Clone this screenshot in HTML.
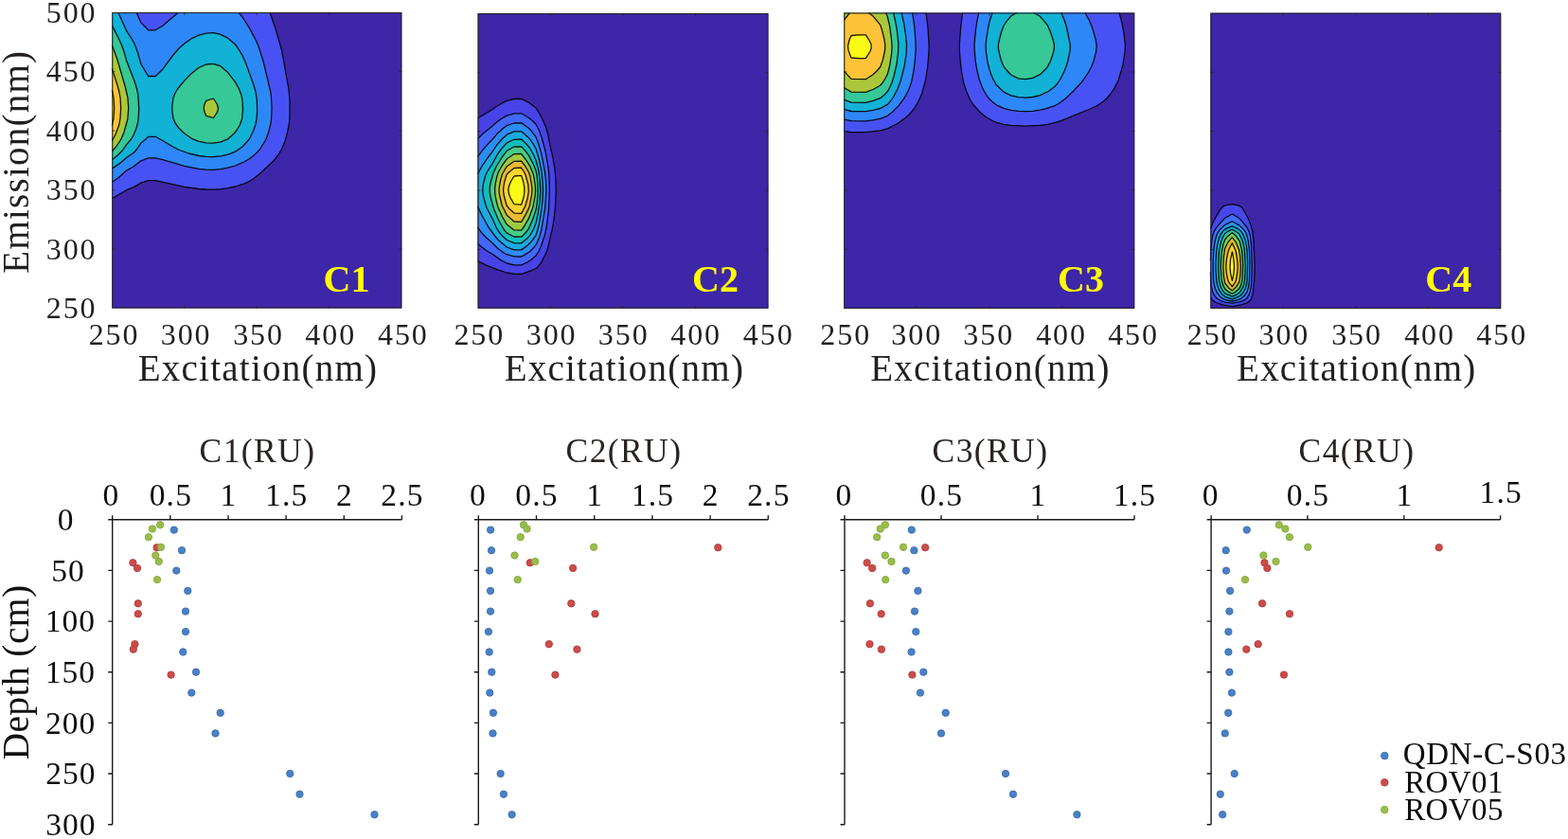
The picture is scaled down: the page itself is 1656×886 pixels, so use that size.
<!DOCTYPE html>
<html><head><meta charset="utf-8"><title>EEM components and depth profiles</title>
<style>
html,body{margin:0;padding:0;background:#fff;}
svg{display:block;}
text{font-family:"Liberation Serif","Times New Roman",serif;}
.tk{font-size:32px;fill:#231f20;letter-spacing:1.9px;}
.al{font-size:39px;fill:#231f20;letter-spacing:1.24px;}
.cl{font-size:40px;font-weight:bold;fill:#ffff00;}
.tk2{font-size:33.5px;fill:#0d0d0d;letter-spacing:1.2px;}
.tk3{font-size:33.5px;fill:#0d0d0d;letter-spacing:1px;}
.tt{font-size:35.5px;fill:#2a2422;letter-spacing:1.4px;}
.dl{font-size:39.5px;fill:#111;letter-spacing:0.4px;}
.lg{font-size:33px;fill:#0d0d0d;letter-spacing:0.4px;}
</style></head>
<body>
<svg width="1656" height="886" viewBox="0 0 1656 886">
<rect width="1656" height="886" fill="#fff"/>
<g><rect x="118.3" y="13" width="306" height="312.5" fill="#3e26a8"/>
<path fill="#4852f4" fill-rule="evenodd" d="M118.3 13L285 13 292.3 34.6 297.7 54 305 95 305.8 102 306.1 110 306.1 120 305.6 129 304.2 137 301.6 147 299.1 154 296.7 159 292.7 165 289.3 169.3 274.3 183.4 267.3 189 263.6 191.3 258.3 193.8 248.4 197 240.7 198.7 233.1 199.7 225.4 200.1 217.8 200 210.1 199.5 194.8 197.3 164.2 190.7 156.6 190.7 148.9 193.1 141.2 197.6 133.6 200.7 118.3 209.6 118.3 13Z"/>
<path fill="#2e87f7" fill-rule="evenodd" d="M118.3 13L144.1 13 148.9 23.9 156.6 31.8 164.2 31.8 171.8 27.3 188.5 13 251.8 13 256 18 263.3 29.4 269.3 40.6 273.1 49 275.6 56 278.4 66 284.4 90 286.1 99 286.8 107 287 116 286.5 126 285.4 133 283.3 140.5 280.5 148 276.3 155 272.3 160.1 268.3 163.9 263.6 167.5 254.3 172.6 248.4 175 240.7 177.2 233 178.6 225.4 179.3 217.8 179.1 210.1 178.3 202.4 177 191.3 174.4 171.8 168.6 164.2 166.8 156.6 166.8 148.9 169.8 141.2 175.7 133.6 180.1 124.7 188 118.3 192.3 118.3 13Z"/>
<path fill="#12b1d6" fill-rule="evenodd" d="M118.3 13L124.8 13 133.6 32.6 139.1 41 141.9 46 145.3 55 148.9 67.7 156.6 80.5 164.2 80.5 171.8 73.2 183 58 190.1 50 194.8 45.9 201.3 41.5 210.1 37.1 217.8 35.1 225.4 34.7 233.1 36.3 240.7 40.3 248.4 47 252 52 255.7 58 260 68 268.7 92 270.3 98 271.2 104 271.7 112 271.6 119 271 126 269.8 132 267.2 139 263.6 146.2 261.6 149 257 154 253.3 157 248.6 160 240.7 163.1 233.1 164.9 225.4 165.6 217.8 165.4 206.3 163.8 194.8 160.6 184.4 156 164.2 144.3 156.6 144.3 153.3 147.6 148.9 150.9 145 157 141.2 161.2 133.6 166.5 127.3 171.9 118.3 178.1 118.3 13Z"/>
<path fill="#37c897" fill-rule="evenodd" d="M118.3 27L124 38 128.6 48 131.1 55 133.6 63.9 142.1 86 144.5 94 145.8 100 146.7 114 146.3 124 145.6 129 144.1 135 141.2 142.3 138.5 147 133.6 152.6 129.2 159 124.2 164 118.3 168.8 118.3 27ZM217.5 68L225.4 67.3 233.1 69.9 240.7 76.6 248.4 86.6 252 93 254.8 100 256.1 107 256.5 116 255.5 126 253.3 132 249.7 138 247.2 141 240.7 146.8 233.1 149.9 225.4 151.1 217.8 150.8 210.1 149.3 202.4 146.3 194.9 141 188.7 135 185.1 130 183 125 181.9 118 181.8 112 182.9 104 184.6 99 187.5 94 194.8 85.1 202.4 77.5 210.1 71.3 217.5 68Z"/>
<path fill="#abc739" fill-rule="evenodd" d="M118.3 48L120.5 53 123.3 60.9 132.1 91 134.9 103 135.7 114 134.8 126 130.8 140 128.3 146 126.6 149 122.5 155 118.3 159.7 118.3 48ZM225.4 104L229.3 110 230.4 114 230.2 116 229.1 119 225.4 124.5 217.8 122.3 215.9 118 215.2 114 215.7 111 217.8 106.3 225.4 104Z"/>
<path fill="#fec338" fill-rule="evenodd" d="M118.3 73L123.4 88 125.7 96 127 103 127.6 114 127 125 125.7 132 122.4 141 118.3 148.9 118.3 73Z"/>
<path fill="#f9fb15" fill-rule="evenodd" d="M118.3 96L118.3 95.1 119.1 98 120 103 120.6 114 120 125 118.3 132.7 118.3 96Z"/>
<path fill="none" stroke="#000" stroke-width="1.3" stroke-opacity="0.9" stroke-linejoin="round" d="M285 13L291.3 31.5 297.5 53 304.9 94 306.1 108 305.8 127 304.8 134 303.2 141 301 149 297.7 157 295.3 161.3 290.3 168.2 285.3 173.3 274.3 183.4 267.3 189 263.6 191.3 258.3 193.8 248.4 197 240.7 198.7 233.1 199.7 225.4 200.1 217.8 200 210.1 199.5 194.8 197.3 164.2 190.7 156.6 190.7 148.9 193.1 141.2 197.6 133.6 200.7 118.3 209.6M144.1 13L148.9 23.9 156.6 31.8 164.2 31.8 171.8 27.3 188.5 13M251.8 13L256 18 263.3 29.4 269.3 40.6 273.1 49 278.1 65 285.8 97 286.6 104 287 114 286.6 125 285.8 131 283.8 139 281 147 274.9 157 271.4 161 267 165 262.9 168 257.3 171.2 248.4 175 240.7 177.2 233 178.6 225.4 179.3 217.8 179.1 210.1 178.3 194.8 175.3 171.8 168.6 164.2 166.8 156.6 166.8 148.9 169.8 141.2 175.7 133.6 180.1 124.7 188 118.3 192.3M124.8 13L133.6 32.6 139.1 41 141.9 46 145.3 55 148.9 67.7 156.6 80.5 164.2 80.5 171.8 73.2 183 58 189.1 51 194.8 45.9 202.4 40.7 205.3 39.4 210.1 37.1 217.8 35.1 225.4 34.7 233.1 36.3 240.7 40.3 248.4 47 251.4 51 256 58.6 260.3 68.6 267.7 89 270 97 271.3 105 271.6 118 271 126 269.8 132 267.2 139 263.2 147 256 155 249.3 159.6 244.3 161.8 240.7 163.1 233.1 164.9 225.4 165.6 217.8 165.4 210.1 164.5 199.3 162 188.4 158 182.6 155 171.8 148.5 164.2 144.3 156.6 144.3 153.3 147.6 148.9 150.9 145 157 141.2 161.2 133.6 166.5 127.3 171.9 118.3 178.1M118.3 26.7L124.3 38.6 128.6 48 131.1 55 133.6 63.9 142.3 86.6 144.5 94 145.8 100 146.7 114 146.3 124 145.6 129 144.1 135 141.2 142.3 138.5 147 133.6 152.6 129.2 159 124.2 164 118.3 168.8M217.5 68L225.4 67.3 233.1 69.9 240.7 76.6 248.4 86.6 252 93 254.8 100 256.1 107 256.5 116 255.5 126 253.3 132 249.7 138 247.2 141 240.7 146.8 233.1 149.9 225.4 151.1 217.8 150.8 210.1 149.3 202.4 146.3 194.9 141 188.7 135 185.1 130 183 125 181.9 118 181.8 112 182.9 104 184.6 99 187.5 94 194.8 85.1 202.4 77.5 210.1 71.3 217.5 68M118.3 47.8L123.3 61 132.1 91 134.9 103 135.7 114 134.8 126 130.8 140 128.3 146 126.6 149 122.5 155 118.3 159.7M225.4 104L229.3 110 230.4 114 230.2 116 229.1 119 225.4 124.5 217.8 122.3 215.9 118 215.2 114 215.7 111 217.8 106.3 225.4 104M118.3 72.3L124 90 126.1 98 127.1 104 127.6 114 127 125 125.7 132 122.4 141 118.3 148.9M118.3 95.1L120 103 120.6 114 120 125 118.3 132.7"/></g>
<path fill="none" stroke="#262626" stroke-width="0.8" d="M194.8 325.5v-3M194.8 13v3M271.3 325.5v-3M271.3 13v3M347.8 325.5v-3M347.8 13v3M118.3 75.5h3M424.3 75.5h-3M118.3 138h3M424.3 138h-3M118.3 200.5h3M424.3 200.5h-3M118.3 263h3M424.3 263h-3"/>
<rect x="118.8" y="13.5" width="305" height="311.5" fill="none" stroke="#262626" stroke-width="1.1"/>
<text x="120.5" y="364.3" class="tk" text-anchor="middle">250</text>
<text x="196.6" y="364.3" class="tk" text-anchor="middle">300</text>
<text x="273" y="364.3" class="tk" text-anchor="middle">350</text>
<text x="349.2" y="364.3" class="tk" text-anchor="middle">400</text>
<text x="425.9" y="364.3" class="tk" text-anchor="middle">450</text>
<text x="272.5" y="402.4" class="al" text-anchor="middle">Excitation(nm)</text>
<text x="341.6" y="308.4" class="cl">C1</text>
<g><rect x="504.6" y="14" width="306.8" height="311.7" fill="#3e26a8"/>
<path fill="#4743e7" fill-rule="evenodd" d="M541 105L543 104.5 550.6 104.4 558.3 108.2 566 114.1 570.6 121.3 576 133 578.8 142 585.2 174 586.5 183 587 191 587.1 208 586.5 218 585.4 228 583.1 243 581.3 249.4 579.4 259 577.6 264.9 571.6 277.1 569.7 280 567.8 282 566 283.5 561.6 285.6 550.6 289.4 543 289.3 533.6 287.5 525.6 284.9 515.5 281 504.6 275.6 504.6 124.8 519.9 115.7 524.6 112.3 529.6 109.3 535.3 106.4 541 105Z"/>
<path fill="#4367fd" fill-rule="evenodd" d="M542.7 120L550.6 119.8 555.6 122.6 558.6 124.4 562.9 128 566 131.2 567.5 134 571.3 143 576.1 160 578.9 176 580.1 190 580.4 204 579.6 220 577 241 574.5 251 570.2 263 566 269.9 558.3 276.2 550.6 279.8 543 279.8 535.3 278 533.6 277.2 527.6 273.8 519.9 268.3 514.4 265 508.9 261 504.6 257.3 504.6 146.5 510.2 141 527.6 126.7 535.3 122.1 542.7 120Z"/>
<path fill="#2d8cf3" fill-rule="evenodd" d="M545.5 130L550.6 129.9 555.6 133.2 560.6 137.7 566 144.7 569.5 154 572.1 164 575.7 183 576.8 197 576.7 207 575.7 219 572 242 569.6 250.7 566 258.8 562.6 262.8 558.3 266.7 550.6 271 542.6 270.8 535.3 268.7 529.6 265.4 525.3 262 519.9 256.5 513.6 251 508 245 504.6 239.9 504.6 165.5 508.4 160 513.6 153.9 519.9 147.5 525.3 141 529.5 137 535.3 132.7 543 130 545.5 130Z"/>
<path fill="#1caadf" fill-rule="evenodd" d="M542.8 139L550.6 138.8 558.3 145.4 564.6 154.4 566 156.9 567.4 161 570.6 173.6 572.3 183 573.1 192 573.3 204 572.4 218 570.2 232 567.5 244 566 248.3 561.2 255 557.6 258.8 550.6 263.9 543 263.8 535.3 261 526.6 253.7 523.3 250 516 240 508.8 227 504.6 217.9 504.6 183.8 505.4 182 509.6 174.7 516.3 165 519.9 160.4 523.6 154.6 527.2 150 535.3 142.2 542.8 139Z"/>
<path fill="#12beb9" fill-rule="evenodd" d="M541.3 148L543 147.3 550.6 147.1 555.9 152 559.2 156 562.7 162 566 169 569.1 181 570.3 191 570.8 203 569.8 216 568.1 226 566 235.7 563 243 559.6 248.6 556.5 252 550.6 256.8 543 256.7 535.3 253.5 531.4 250 527.6 245.8 524 240 519.9 230.6 513.8 219 510.9 209 509.8 203 509.9 198 510.7 193 512.9 185 514.8 181 519.9 173.1 525.4 163 529.7 157 535.3 150.9 541.3 148Z"/>
<path fill="#48cb86" fill-rule="evenodd" d="M542.9 155L550.6 154.8 554.6 159.1 558.3 163.9 563.5 174 566 180.3 567 185 567.9 194 568 206 567 216 566 221.8 562.5 232 558.3 241.6 554.9 246 550.6 250.2 543 250 535.3 246.1 531.9 242 526.4 232 521.7 221 518.3 209 517.2 203 517.2 198 518.4 192 520.9 183 524.1 176 530.2 166 535.3 159.3 542.9 155Z"/>
<path fill="#9fc942" fill-rule="evenodd" d="M542.4 163L543 162.7 550.6 162.5 556.6 170.4 559.9 176 562.9 183 564.2 189 565.3 196 565.5 201 565.2 206 562.8 219 558.3 230.9 553.6 239 550.6 243.1 543 242.9 535.3 237.1 530.6 229 526 219 524.1 212 522.9 205 522.6 200 523.2 194 524.9 186 526.3 182 530.2 175 535.3 167.8 542.4 163Z"/>
<path fill="#eaba31" fill-rule="evenodd" d="M542 171L543 170.4 550.6 170.1 555 176 558.5 182 559.8 186 561.5 195 561.9 200 561.7 205 559.4 217 558.3 220.4 555.6 225.8 550.6 234.3 543 234 535.3 227.3 530.2 217 527.4 205 527.1 201 527.5 196 528.7 190 530.4 184 535.3 175.7 542 171Z"/>
<path fill="#fad42e" fill-rule="evenodd" d="M542.3 178L543 177.5 550.6 177.2 553.7 182 555.1 185 557.8 195 558.3 202 557.2 209 554.6 218 550.6 225.4 543 225.1 537.5 220 535.1 217 532.1 206 531.6 201 531.9 197 532.8 192 534.9 185 535.4 184 537.4 182 542.3 178Z"/>
<path fill="#f9fb15" fill-rule="evenodd" d="M542.9 186L550.6 185.4 552.7 192 553.8 198 553.9 203 552.8 209 550.6 216.2 543 215.6 539.1 209 537.3 204 536.9 200 537.7 196 539.6 191.5 542.9 186Z"/>
<path fill="none" stroke="#000" stroke-width="1.3" stroke-opacity="0.9" stroke-linejoin="round" d="M504.6 124.8L519.9 115.7 524.6 112.3 530.6 108.8 535.3 106.4 543 104.5 550.6 104.4 558.3 108.2 566 114.1 569.3 119 572.6 125.3 576.4 134 578.6 141.2 581.3 155.7 583.8 166 585.7 177 586.7 186 587.3 201 586.6 217 585.2 230 583.3 242 581.3 249.4 579.6 258 577.9 264 575.8 269 571.1 278 567.6 282.2 566 283.5 561.6 285.6 550.6 289.4 543 289.3 535.3 288 525.6 284.9 513.6 280.2 504.6 275.6M504.6 146.5L509.6 141.6 519.9 133.3 524.6 129 529.6 125.4 535.3 122.1 543 119.9 550.6 119.8 558.3 124.2 562.6 127.7 566 131.2 569.5 138 572.3 146 576.1 160 578.7 175 579.9 185 580.4 201 579.4 222 577.3 239 575.6 247.3 571.8 259 569.2 265 566 269.9 560 275 556.6 277.1 550.6 279.8 543 279.8 535.3 278 528.6 274.4 519.9 268.3 514.4 265 508.9 261 504.6 257.3M504.6 165.5L508.6 159.8 514.4 153 519.9 147.5 525.6 140.7 531.6 135.3 535.3 132.7 543 130 550.6 129.9 558.3 135.3 561.6 138.8 566 144.7 568.5 151 571.6 161.7 575.4 181 576.5 191 576.9 201 575.6 220 572 242 569.9 250 566.6 257.6 564.2 261 559.2 266 553.6 269.4 550.6 271 543 270.9 535.3 268.7 531.6 266.7 525.6 262.3 519.9 256.5 513.6 251 508 245 504.6 239.9M504.6 183.8L508.6 176.2 515.6 166 519.9 160.4 524.8 153 531 146 535.3 142.2 543 138.9 550.6 138.8 558.3 145.4 562.6 151.2 566 157 569 167 572 181 573 191 573.4 201 573 211 572 221 569.3 237 566.9 246 566 248.3 564.3 251 559.6 256.8 555.6 260.4 550.6 263.9 543 263.8 535.3 261 526.6 253.7 523.3 250 516 240 508.8 227 504.6 217.9M541.3 148L543 147.3 550.6 147.1 555.9 152 559.2 156 562.7 162 566 169 569.1 181 570.3 191 570.8 203 569.8 216 568.1 226 566 235.7 563 243 559.6 248.6 556.5 252 550.6 256.8 543 256.7 535.3 253.5 531.4 250 527.6 245.8 524 240 519.9 230.6 513.8 219 510.9 209 509.8 203 509.9 198 510.7 193 512.9 185 514.8 181 519.9 173.1 525.4 163 529.7 157 535.3 150.9 541.3 148M542.9 155L550.6 154.8 554.6 159.1 558.3 163.9 563.5 174 566 180.3 567 185 567.9 194 568 206 567 216 566 221.8 562.5 232 558.3 241.6 554.9 246 550.6 250.2 543 250 535.3 246.1 531.9 242 526.4 232 521.7 221 518.3 209 517.2 203 517.2 198 518.4 192 520.9 183 524.1 176 530.2 166 535.3 159.3 542.9 155M542.4 163L543 162.7 550.6 162.5 556.6 170.4 559.9 176 562.9 183 564.2 189 565.3 196 565.5 201 565.2 206 562.8 219 558.3 230.9 553.6 239 550.6 243.1 543 242.9 535.3 237.1 530.6 229 526 219 524.1 212 522.9 205 522.6 200 523.2 194 524.9 186 526.3 182 530.2 175 535.3 167.8 542.4 163M542 171L543 170.4 550.6 170.1 555 176 558.5 182 559.8 186 561.5 195 561.9 200 561.7 205 559.4 217 558.3 220.4 555.6 225.8 550.6 234.3 543 234 535.3 227.3 530.2 217 527.4 205 527.1 201 527.5 196 528.7 190 530.4 184 535.3 175.7 542 171M542.3 178L543 177.5 550.6 177.2 553.7 182 555.1 185 557.8 195 558.3 202 557.2 209 554.6 218 550.6 225.4 543 225.1 537.5 220 535.1 217 532.1 206 531.6 201 531.9 197 532.8 192 534.9 185 535.4 184 537.4 182 542.3 178M542.9 186L550.6 185.4 552.7 192 553.8 198 553.9 203 552.8 209 550.6 216.2 543 215.6 539.1 209 537.3 204 536.9 200 537.7 196 539.6 191.5 542.9 186"/></g>
<path fill="none" stroke="#262626" stroke-width="0.8" d="M581.3 325.7v-3M581.3 14v3M658 325.7v-3M658 14v3M734.7 325.7v-3M734.7 14v3M504.6 76.3h3M811.4 76.3h-3M504.6 138.7h3M811.4 138.7h-3M504.6 201h3M811.4 201h-3M504.6 263.4h3M811.4 263.4h-3"/>
<rect x="505.1" y="14.5" width="305.8" height="310.7" fill="none" stroke="#262626" stroke-width="1.1"/>
<text x="506.3" y="364.3" class="tk" text-anchor="middle">250</text>
<text x="582.6" y="364.3" class="tk" text-anchor="middle">300</text>
<text x="658.7" y="364.3" class="tk" text-anchor="middle">350</text>
<text x="735.1" y="364.3" class="tk" text-anchor="middle">400</text>
<text x="811.7" y="364.3" class="tk" text-anchor="middle">450</text>
<text x="659.4" y="402.4" class="al" text-anchor="middle">Excitation(nm)</text>
<text x="731" y="308.3" class="cl">C2</text>
<g><rect x="891.3" y="13.5" width="306.9" height="312.4" fill="#3e26a8"/>
<path fill="#4852f4" fill-rule="evenodd" d="M891.3 13.5L978 13.5 980.4 33.5 981.1 46.5 981 54.5 980.1 67.5 978.6 78.5 977 86.5 973.7 98.5 971.8 103.5 969.2 108.5 964.9 115.5 960.4 121 948.3 130.2 937.3 135.9 929.7 137.9 914.3 139.7 899 139.7 891.3 138.4 891.3 13.5ZM1016.6 13.5L1182.1 13.5 1184.5 22.5 1186.4 31.5 1188 43.5 1188.4 50.5 1187.2 61.5 1185.7 69.5 1183.5 77.5 1180 87.5 1176.8 93.5 1171.9 100.5 1167.2 105.5 1161.3 110.1 1151.3 115 1122.3 126.8 1115.3 129.3 1106.1 131.4 1098.5 132.4 1090.8 133 1075.4 133 1067.8 132.4 1060.1 131.3 1052.4 129.3 1049.3 128 1044.3 125.5 1038.3 121.3 1033.3 116.8 1028.3 111 1025.8 107.5 1023.3 102.8 1018.3 89.5 1016.7 82.5 1015 71.5 1013.3 50.5 1014.5 30.5 1016.6 13.5Z"/>
<path fill="#2e87f7" fill-rule="evenodd" d="M891.3 13.5L963.7 13.5 966 30.5 967.2 50.5 965.6 70.5 963.9 80.5 962 88.5 960.3 93.5 957.3 99.8 949.2 111.5 942.3 118.4 937.3 122.3 929.7 125.4 914.3 127.8 899 127.7 891.3 126.1 891.3 13.5ZM1033.6 13.5L1145.9 13.5 1149.9 20.5 1153.3 28.5 1155.5 35.5 1158 46.5 1158.1 51.5 1157.2 56.5 1155 64.5 1152.2 71.5 1147.3 79.9 1140 89.5 1132.3 97.5 1124.8 104.5 1119.5 108.5 1113.8 111.7 1106.1 114.5 1098.5 116.2 1090.8 117.3 1083.1 117.6 1075.4 117.3 1067.8 116.3 1060.1 114.4 1053.6 111.5 1050.3 109.4 1045.9 105.5 1043.3 102.5 1040.3 98 1035.4 87.5 1031.9 74.5 1030 62.5 1029.1 52.5 1029 47.5 1030.9 28.5 1033.6 13.5Z"/>
<path fill="#12b1d6" fill-rule="evenodd" d="M891.3 13.5L952.1 13.5 955.5 29.5 957.5 46.5 957.2 55.5 955 70.5 950.2 88.5 947.7 94.5 944.1 101.5 940.8 106.5 937.3 110.4 929.7 114.5 922 116.3 914.3 117.6 899 117.5 891.3 115.4 891.3 13.5ZM1048.1 13.5L1120.7 13.5 1124.2 21.5 1126.9 30.5 1130.1 45.5 1130.3 51.5 1127.7 64.5 1124.8 73.5 1119.3 84.5 1113.8 91.6 1106.1 97.3 1098.5 100.7 1090.8 102.5 1083.1 103.1 1075.4 102.6 1067.8 100.8 1060.1 97.1 1052.4 89.8 1048.8 83.5 1044.8 72.9 1042.7 63.5 1041.2 51.5 1041.4 44.5 1043.4 30.5 1045.1 22.5 1048.1 13.5Z"/>
<path fill="#37c897" fill-rule="evenodd" d="M891.3 13.5L943.6 13.5 946.7 28.5 948.8 45.5 948.7 53.5 947.4 65.5 943.8 81.5 940.3 91.2 937.3 96.8 929.7 103.7 922 106.4 914.3 108.3 899 108.2 891.3 105.1 891.3 13.5ZM1071.8 14.5L1073.7 13.5 1091.8 13.5 1098.5 17.3 1106.1 26.3 1109.3 33.5 1112.6 43.5 1113.5 48.5 1113 53.5 1109.8 63.5 1107 69.5 1103.8 73.5 1098.5 78.6 1090.8 82.4 1083.1 83.7 1075.4 82.8 1067.8 79 1060.1 70.3 1058 65.5 1056.2 59.5 1054.6 52.5 1054.4 47.5 1055.3 42.5 1058.4 31.5 1060.1 27 1064.7 20.5 1067.8 16.9 1071.8 14.5Z"/>
<path fill="#abc739" fill-rule="evenodd" d="M891.3 13.5L935.5 13.5 937.3 17.6 940.2 31.5 942.1 48.5 941.8 54.5 940.7 63.5 937.9 76.5 937.3 78.4 934 84.5 929.7 90.3 922 94.5 914.3 97.3 899 97.1 891.3 92.5 891.3 13.5Z"/>
<path fill="#fec338" fill-rule="evenodd" d="M896.6 14.5L897.5 13.5 917.2 13.5 922 17 929.1 25.5 930.1 27.5 932.2 34.5 934.4 44.5 934.9 50.5 933.8 57.5 931 67.5 929.7 70.9 924.5 76.5 922 78.8 914.3 83.7 899 83.4 891.3 75.1 891.3 21.4 896.6 14.5Z"/>
<path fill="#f9fb15" fill-rule="evenodd" d="M899.7 37.5L906.6 36.8 914.3 36.9 918 42.5 919.9 46.5 920.3 50.5 918.9 54.5 914.3 61.6 906.6 61.7 899 61 896.1 53.5 895.5 48.5 896.9 42.5 899 37.6 899.7 37.5Z"/>
<path fill="none" stroke="#000" stroke-width="1.3" stroke-opacity="0.9" stroke-linejoin="round" d="M978 13.5L979.9 28.5 981.1 46.5 980.9 56.5 979.6 71.5 977.3 85.5 973.7 98.5 970.3 106.5 965.3 114.9 960.8 120.5 956.3 124.4 947.8 130.5 937.3 135.9 929.7 137.9 914.3 139.7 899 139.7 891.3 138.4M1182.1 13.5L1185 24.5 1187 35.5 1188.4 47.5 1188 55.5 1185.7 69.5 1181.2 84.5 1177.4 92.5 1171.9 100.5 1166.1 106.5 1158.9 111.5 1151.3 115 1120.3 127.6 1113.8 129.7 1106.1 131.4 1098.5 132.4 1083.1 133.2 1067.8 132.4 1060.1 131.3 1052.4 129.3 1048.3 127.5 1041.3 123.5 1035.3 118.7 1028.3 111 1024.7 105.5 1020.3 95.5 1017.8 87.5 1015.7 76.5 1014.3 65.4 1013.4 53.5 1013.4 45.5 1014.8 27.5 1016.6 13.5M963.7 13.5L965.7 27.5 967.1 44.5 967.1 52.5 966.4 63.5 964.9 75.5 962.6 86.5 959.9 94.5 955.7 102.5 949.3 111.4 942.2 118.5 937.3 122.3 930.3 125.2 922 126.8 914.3 127.8 899 127.7 891.3 126.1M1145.9 13.5L1150.4 21.5 1153.7 29.5 1157.3 42.5 1158.2 48.5 1157.6 54.5 1155.3 63.5 1153.1 69.5 1149.5 76.5 1142.6 86.5 1134.3 95.5 1124.8 104.5 1117.9 109.5 1113.8 111.7 1104.3 114.9 1098.5 116.2 1090.8 117.3 1083.1 117.6 1075.4 117.3 1067.8 116.3 1060.1 114.4 1052.4 110.9 1048 107.5 1044.3 103.8 1040.6 98.5 1037.5 92.5 1034.4 84.5 1031.9 74.5 1030.2 64.5 1029.1 51.5 1029.1 45.5 1030.5 31.5 1031.8 22.5 1033.6 13.5M952.1 13.5L954.8 25.5 956.3 35.5 957.5 47.5 957.2 55.5 955.3 69 951.1 85.5 948.2 93.5 943.5 102.5 940.8 106.5 937.3 110.4 929.7 114.5 922 116.3 914.3 117.6 899 117.5 891.3 115.4M1120.7 13.5L1123.8 20.5 1126.4 28.5 1130.3 47.5 1130.2 52.5 1128.2 62.5 1126.6 68.5 1124.3 74.5 1119.9 83.5 1116.5 88.5 1113.8 91.6 1107.3 96.5 1098.5 100.7 1090.8 102.5 1083.1 103.1 1075.4 102.6 1067.8 100.8 1060.1 97.1 1052.4 89.8 1049.3 84.5 1046.7 78.5 1044.8 72.9 1043 65.5 1041.4 54.5 1041.1 48.5 1041.7 41.5 1043.8 28.5 1045.4 21.5 1048.1 13.5M943.6 13.5L946 24.5 947.5 33.5 948.8 45.5 948.7 53.5 947.2 66.5 944.3 79.5 941.9 87.5 938.1 95.5 935.3 98.9 929.7 103.7 922 106.4 914.3 108.3 899 108.2 891.3 105.1M1091.8 13.5L1098.5 17.3 1106.1 26.3 1109.3 33.5 1112.3 42.5 1113.4 47.5 1113.3 51.5 1112.2 56.5 1109.3 64.8 1106.1 70.9 1103.8 73.5 1098.5 78.6 1094.3 80.7 1090.8 82.4 1083.1 83.7 1075.4 82.8 1067.8 79 1064.4 75.5 1060.1 70.3 1058.8 67.5 1056.7 61.5 1054.6 52.5 1054.3 48.5 1055 43.5 1057.7 33.5 1060.1 27 1063.9 21.5 1067.8 16.9 1073.7 13.5M935.5 13.5L937.3 17.6 939.6 27.5 941.5 41.5 942.1 49.5 941.5 57.5 939.6 69.5 937.3 78.3 935.1 82.5 932.7 86.5 929.7 90.3 922 94.5 914.3 97.3 899 97.1 891.3 92.5M917.2 13.5L922.3 17.3 929.7 26.3 931.7 32.5 933.9 41.5 934.8 47.5 934.5 53.5 932.3 63.5 929.8 70.5 926.5 74.5 922 78.8 914.3 83.7 899 83.4 891.3 75.1M891.3 21.4L897.5 13.5M899.7 37.5L906.6 36.8 914.3 36.9 918 42.5 919.9 46.5 920.3 50.5 918.9 54.5 914.3 61.6 906.6 61.7 899 61 896.1 53.5 895.5 48.5 896.9 42.5 899 37.6 899.7 37.5"/></g>
<path fill="none" stroke="#262626" stroke-width="0.8" d="M968 325.9v-3M968 13.5v3M1044.8 325.9v-3M1044.8 13.5v3M1121.5 325.9v-3M1121.5 13.5v3M891.3 76h3M1198.2 76h-3M891.3 138.5h3M1198.2 138.5h-3M891.3 200.9h3M1198.2 200.9h-3M891.3 263.4h3M1198.2 263.4h-3"/>
<rect x="891.8" y="14" width="305.9" height="311.4" fill="none" stroke="#262626" stroke-width="1.1"/>
<text x="893.2" y="364.3" class="tk" text-anchor="middle">250</text>
<text x="968.2" y="364.3" class="tk" text-anchor="middle">300</text>
<text x="1044.2" y="364.3" class="tk" text-anchor="middle">350</text>
<text x="1121" y="364.3" class="tk" text-anchor="middle">400</text>
<text x="1197" y="364.3" class="tk" text-anchor="middle">450</text>
<text x="1045.9" y="402.4" class="al" text-anchor="middle">Excitation(nm)</text>
<text x="1117.1" y="307.9" class="cl">C3</text>
<g><rect x="1278.4" y="13.7" width="306.8" height="312.3" fill="#3e26a8"/>
<path fill="#4747eb" fill-rule="evenodd" d="M1300.5 215.7L1301.4 215.6 1307.1 216.7 1309.1 217.3 1311.1 218.7 1312.8 220.7 1316.8 227.6 1319.9 234.7 1322.3 241.7 1323.4 246.9 1325.2 279.7 1325 290.7 1323.9 305.7 1323.2 310.7 1321.5 315.7 1319.4 318.2 1315.4 320.3 1309.1 322.4 1301.4 323.7 1292.4 322.2 1284.4 319.5 1280.4 317 1278.4 313.9 1278.4 241.4 1282.7 231.7 1290 219.7 1292.3 217.7 1293.7 217 1300.5 215.7Z"/>
<path fill="#3e6fff" fill-rule="evenodd" d="M1300.1 226.7L1301.4 226 1309.1 230.8 1315.4 238.2 1318.8 243.7 1320.1 247.7 1321.3 255.7 1322.3 276.7 1321.8 298.7 1320.9 305.7 1319.4 310.7 1316.8 315 1313.4 317.4 1309.1 318.9 1301.4 320.2 1293.7 319.1 1289.4 317.7 1285.4 315.3 1282.5 311.7 1280.6 307.7 1279.4 302.7 1278.7 296.7 1278.4 287.3 1278.4 274.7 1279 261.7 1280 252.7 1281.7 245.7 1284.4 240.9 1292.4 231.4 1293.7 230.1 1300.1 226.7Z"/>
<path fill="#2797eb" fill-rule="evenodd" d="M1299.4 234.7L1301.4 233.8 1309.1 238.1 1312.9 241.7 1315.8 245.7 1317.2 249.7 1318.6 256.7 1319.5 264.7 1319.9 275.7 1319.5 296.7 1318.4 303.7 1316.8 308.7 1314.4 312.1 1310.1 315.7 1307.6 316.7 1301.4 318 1294.4 316.7 1292 315.7 1288.4 312.9 1285.7 309.7 1283.4 304.8 1282.2 299.7 1281.6 295.7 1281.2 285.7 1281.2 275.7 1281.9 263.7 1283 255.7 1284.8 248.7 1286.7 244.7 1289.4 241.4 1293.7 237.5 1299.4 234.7Z"/>
<path fill="#08b5d0" fill-rule="evenodd" d="M1299.2 239.7L1301.4 238.8 1307.4 241.7 1310.4 244 1312.9 247.7 1315.1 253.7 1316.4 259.7 1317.1 265.7 1317.6 276.7 1317.2 295.7 1316.6 299.7 1315.1 304.7 1313.1 308.7 1310.4 311.7 1307.2 313.7 1301.4 315.9 1293.7 313.3 1290.6 310.7 1288.3 307.7 1286.5 303.7 1284.9 297.7 1284 285.7 1284 276.7 1284.7 265.7 1285.7 258.7 1287.4 252.1 1289.1 247.7 1291.4 244.3 1293.7 242.1 1299.2 239.7Z"/>
<path fill="#31c69f" fill-rule="evenodd" d="M1300.4 242.7L1301.4 242.3 1307.2 245.7 1309.1 247.5 1311.1 251.7 1312.8 256.7 1314.2 263.7 1315.3 279.7 1314.6 295.7 1313.8 299.7 1312.4 303.7 1309.1 309 1306.4 310.8 1301.4 313.1 1293.7 309.8 1291.4 306.9 1289.6 303.7 1287.6 296.7 1286.7 282.7 1287.5 265.7 1289.8 254.7 1291.8 249.7 1293.7 246.5 1296.3 244.7 1300.4 242.7Z"/>
<path fill="#81cc59" fill-rule="evenodd" d="M1299.9 246.7L1301.4 245.7 1302.7 246.7 1305.7 249.7 1309.1 254.6 1311.6 264.7 1312.7 278.7 1312.1 293.7 1311.5 297.7 1310.6 300.7 1309.4 303.7 1308.4 305 1305.4 307.8 1301.4 310.3 1298.3 308.7 1294.4 305.9 1292.3 302.7 1290.2 295.7 1289.3 283.7 1289.4 275.7 1290.2 266.7 1292 257.7 1293.7 253 1296.5 249.7 1299.9 246.7Z"/>
<path fill="#dcbd29" fill-rule="evenodd" d="M1301.3 250.7L1305.2 255.7 1308.6 263.7 1309.7 270.7 1310.3 280.7 1310 288.7 1309.1 296.7 1307.7 299.7 1305.8 302.7 1301.4 306.9 1297.3 303.7 1293.7 299 1292.5 292.7 1291.8 281.7 1292.3 271.7 1293.7 262.2 1297 255.7 1301.3 250.7Z"/>
<path fill="#fccf30" fill-rule="evenodd" d="M1300.8 257.7L1301.4 256.7 1305 264.7 1306.6 273.7 1307.2 280.7 1306.8 287.7 1305.5 295.7 1304.2 298.7 1301.4 302.7 1298.2 298.7 1296.8 295.7 1295.4 288.7 1294.8 281.7 1295.3 274.7 1296.8 266.7 1298.1 262.7 1300.8 257.7Z"/>
<path fill="#f9fb15" fill-rule="evenodd" d="M1301.2 266.7L1301.4 266 1301.6 266.7 1302.7 272.7 1303.5 280.7 1303 288.7 1301.4 296.3 1299.6 288.7 1299 281.7 1299.5 274.7 1301.2 266.7Z"/>
<path fill="none" stroke="#000" stroke-width="1.3" stroke-opacity="0.9" stroke-linejoin="round" d="M1278.4 241.4L1281.4 234.3 1283.8 229.7 1289.2 220.7 1292.3 217.7 1294.9 216.7 1301.4 215.6 1308.4 217.1 1311.1 218.7 1313.4 221.7 1318.3 230.7 1321 237.7 1322.8 243.7 1324 253.7 1325.2 281.7 1324.8 293.7 1323.4 309.7 1321.5 315.7 1320.4 317.2 1318.7 318.7 1315.4 320.3 1310.4 322 1301.4 323.7 1292.4 322.2 1284.4 319.5 1280.4 317 1278.4 313.9M1278.4 275.4L1278.8 264.7 1279.6 255.7 1280.8 248.7 1282.1 244.7 1283.8 241.7 1287.4 237.1 1293.4 230.5 1301.4 226 1308.4 230.3 1310.4 232.2 1316.8 240 1319.2 244.7 1320.5 249.7 1321.5 257.7 1322.3 281.7 1321.6 300.7 1320.4 307.7 1318.9 311.7 1316.8 315 1313.4 317.4 1309.1 318.9 1301.4 320.2 1293.7 319.1 1289.4 317.7 1285.4 315.3 1282.5 311.7 1280.6 307.7 1279.4 302.7 1278.7 296.7 1278.4 287.3M1299.4 234.7L1301.4 233.8 1309.1 238.1 1312.9 241.7 1315.8 245.7 1317.2 249.7 1318.6 256.7 1319.5 264.7 1319.9 275.7 1319.5 296.7 1318.4 303.7 1316.8 308.7 1314.4 312.1 1310.1 315.7 1307.6 316.7 1301.4 318 1294.4 316.7 1292 315.7 1288.4 312.9 1285.7 309.7 1283.4 304.8 1282.2 299.7 1281.6 295.7 1281.2 285.7 1281.2 275.7 1281.9 263.7 1283 255.7 1284.8 248.7 1286.7 244.7 1289.4 241.4 1293.7 237.5 1299.4 234.7M1299.2 239.7L1301.4 238.8 1307.4 241.7 1310.4 244 1312.9 247.7 1315.1 253.7 1316.4 259.7 1317.1 265.7 1317.6 276.7 1317.2 295.7 1316.6 299.7 1315.1 304.7 1313.1 308.7 1310.4 311.7 1307.2 313.7 1301.4 315.9 1293.7 313.3 1290.6 310.7 1288.3 307.7 1286.5 303.7 1284.9 297.7 1284 285.7 1284 276.7 1284.7 265.7 1285.7 258.7 1287.4 252.1 1289.1 247.7 1291.4 244.3 1293.7 242.1 1299.2 239.7M1300.4 242.7L1301.4 242.3 1307.2 245.7 1309.1 247.5 1311.1 251.7 1312.8 256.7 1314.2 263.7 1315.3 279.7 1314.6 295.7 1313.8 299.7 1312.4 303.7 1309.1 309 1306.4 310.8 1301.4 313.1 1293.7 309.8 1291.4 306.9 1289.6 303.7 1287.6 296.7 1286.7 282.7 1287.5 265.7 1289.8 254.7 1291.8 249.7 1293.7 246.5 1296.3 244.7 1300.4 242.7M1299.9 246.7L1301.4 245.7 1302.7 246.7 1305.7 249.7 1309.1 254.6 1311.6 264.7 1312.7 278.7 1312.1 293.7 1311.5 297.7 1310.6 300.7 1309.4 303.7 1308.4 305 1305.4 307.8 1301.4 310.3 1298.3 308.7 1294.4 305.9 1292.3 302.7 1290.2 295.7 1289.3 283.7 1289.4 275.7 1290.2 266.7 1292 257.7 1293.7 253 1296.5 249.7 1299.9 246.7M1301.3 250.7L1305.2 255.7 1308.6 263.7 1309.7 270.7 1310.3 280.7 1310 288.7 1309.1 296.7 1307.7 299.7 1305.8 302.7 1301.4 306.9 1297.3 303.7 1293.7 299 1292.5 292.7 1291.8 281.7 1292.3 271.7 1293.7 262.2 1297 255.7 1301.3 250.7M1300.8 257.7L1301.4 256.7 1305 264.7 1306.6 273.7 1307.2 280.7 1306.8 287.7 1305.5 295.7 1304.2 298.7 1301.4 302.7 1298.2 298.7 1296.8 295.7 1295.4 288.7 1294.8 281.7 1295.3 274.7 1296.8 266.7 1298.1 262.7 1300.8 257.7M1301.2 266.7L1301.4 266 1301.6 266.7 1302.7 272.7 1303.5 280.7 1303 288.7 1301.4 296.3 1299.6 288.7 1299 281.7 1299.5 274.7 1301.2 266.7"/></g>
<path fill="none" stroke="#262626" stroke-width="0.8" d="M1355.1 326v-3M1355.1 13.7v3M1431.8 326v-3M1431.8 13.7v3M1508.5 326v-3M1508.5 13.7v3M1278.4 76.2h3M1585.2 76.2h-3M1278.4 138.6h3M1585.2 138.6h-3M1278.4 201.1h3M1585.2 201.1h-3M1278.4 263.5h3M1585.2 263.5h-3"/>
<rect x="1278.9" y="14.2" width="305.8" height="311.3" fill="none" stroke="#262626" stroke-width="1.1"/>
<text x="1280.6" y="364.3" class="tk" text-anchor="middle">250</text>
<text x="1356.4" y="364.3" class="tk" text-anchor="middle">300</text>
<text x="1433" y="364.3" class="tk" text-anchor="middle">350</text>
<text x="1510" y="364.3" class="tk" text-anchor="middle">400</text>
<text x="1586.2" y="364.3" class="tk" text-anchor="middle">450</text>
<text x="1432.8" y="402.4" class="al" text-anchor="middle">Excitation(nm)</text>
<text x="1505.3" y="307.7" class="cl">C4</text>
<text x="102.5" y="23.8" class="tk" text-anchor="end">500</text>
<text x="102.5" y="86.3" class="tk" text-anchor="end">450</text>
<text x="102.5" y="148.8" class="tk" text-anchor="end">400</text>
<text x="102.5" y="211.3" class="tk" text-anchor="end">350</text>
<text x="102.5" y="273.8" class="tk" text-anchor="end">300</text>
<text x="102.5" y="336.3" class="tk" text-anchor="end">250</text>
<text transform="translate(30.2 170.7) rotate(-90)" class="al" text-anchor="middle">Emission(nm)</text>
<path fill="none" stroke="#1a1a1a" stroke-width="1.4" d="M114.2 548.8H424.4M118.7 548.8V544.3M179.8 548.8V544.3M241 548.8V544.3M302.1 548.8V544.3M363.3 548.8V544.3M424.4 548.8V544.3M118.7 544.3V870.7M118.7 602.4H114.2M118.7 656.1H114.2M118.7 709.8H114.2M118.7 763.4H114.2M118.7 817H114.2M118.7 870.7H114.2"/>
<text x="117.6" y="533.8" class="tk2" text-anchor="middle">0</text>
<text x="180.4" y="533.8" class="tk2" text-anchor="middle">0.5</text>
<text x="241.6" y="533.8" class="tk2" text-anchor="middle">1</text>
<text x="302.8" y="533.8" class="tk2" text-anchor="middle">1.5</text>
<text x="363.9" y="533.8" class="tk2" text-anchor="middle">2</text>
<text x="425.1" y="533.8" class="tk2" text-anchor="middle">2.5</text>
<text x="272" y="487.6" class="tt" text-anchor="middle">C1(RU)</text>
<circle cx="183.8" cy="559.6" r="3.7" fill="#4a80c6" stroke="#3d6dad" stroke-width="0.9"/><circle cx="192" cy="581.2" r="3.7" fill="#4a80c6" stroke="#3d6dad" stroke-width="0.9"/><circle cx="186.3" cy="602.6" r="3.7" fill="#4a80c6" stroke="#3d6dad" stroke-width="0.9"/><circle cx="198.3" cy="623.9" r="3.7" fill="#4a80c6" stroke="#3d6dad" stroke-width="0.9"/><circle cx="196" cy="645.6" r="3.7" fill="#4a80c6" stroke="#3d6dad" stroke-width="0.9"/><circle cx="196" cy="667.1" r="3.7" fill="#4a80c6" stroke="#3d6dad" stroke-width="0.9"/><circle cx="193.3" cy="688.5" r="3.7" fill="#4a80c6" stroke="#3d6dad" stroke-width="0.9"/><circle cx="207" cy="709.7" r="3.7" fill="#4a80c6" stroke="#3d6dad" stroke-width="0.9"/><circle cx="202.3" cy="731.6" r="3.7" fill="#4a80c6" stroke="#3d6dad" stroke-width="0.9"/><circle cx="232.7" cy="752.8" r="3.7" fill="#4a80c6" stroke="#3d6dad" stroke-width="0.9"/><circle cx="227.5" cy="774.4" r="3.7" fill="#4a80c6" stroke="#3d6dad" stroke-width="0.9"/><circle cx="306.3" cy="817" r="3.7" fill="#4a80c6" stroke="#3d6dad" stroke-width="0.9"/><circle cx="316.5" cy="838.7" r="3.7" fill="#4a80c6" stroke="#3d6dad" stroke-width="0.9"/><circle cx="395.5" cy="860.2" r="3.7" fill="#4a80c6" stroke="#3d6dad" stroke-width="0.9"/><circle cx="165.6" cy="578.2" r="3.7" fill="#cb4c4a" stroke="#b03d3e" stroke-width="0.9"/><circle cx="140.4" cy="594.3" r="3.7" fill="#cb4c4a" stroke="#b03d3e" stroke-width="0.9"/><circle cx="145" cy="600" r="3.7" fill="#cb4c4a" stroke="#b03d3e" stroke-width="0.9"/><circle cx="145.8" cy="637.3" r="3.7" fill="#cb4c4a" stroke="#b03d3e" stroke-width="0.9"/><circle cx="145.8" cy="648.3" r="3.7" fill="#cb4c4a" stroke="#b03d3e" stroke-width="0.9"/><circle cx="142.4" cy="680.2" r="3.7" fill="#cb4c4a" stroke="#b03d3e" stroke-width="0.9"/><circle cx="140.8" cy="685.7" r="3.7" fill="#cb4c4a" stroke="#b03d3e" stroke-width="0.9"/><circle cx="180.6" cy="712.6" r="3.7" fill="#cb4c4a" stroke="#b03d3e" stroke-width="0.9"/><circle cx="169.1" cy="554.3" r="3.7" fill="#9abd4a" stroke="#86a642" stroke-width="0.9"/><circle cx="160.9" cy="558.5" r="3.7" fill="#9abd4a" stroke="#86a642" stroke-width="0.9"/><circle cx="156.9" cy="567.2" r="3.7" fill="#9abd4a" stroke="#86a642" stroke-width="0.9"/><circle cx="170" cy="577.8" r="3.7" fill="#9abd4a" stroke="#86a642" stroke-width="0.9"/><circle cx="164.3" cy="586.5" r="3.7" fill="#9abd4a" stroke="#86a642" stroke-width="0.9"/><circle cx="167.8" cy="593" r="3.7" fill="#9abd4a" stroke="#86a642" stroke-width="0.9"/><circle cx="166" cy="612.1" r="3.7" fill="#9abd4a" stroke="#86a642" stroke-width="0.9"/>
<path fill="none" stroke="#1a1a1a" stroke-width="1.4" d="M500.8 548.8H811.3M505.3 548.8V544.3M566.5 548.8V544.3M627.7 548.8V544.3M688.9 548.8V544.3M750.1 548.8V544.3M811.3 548.8V544.3M505.3 544.3V870.7M505.3 602.4H500.8M505.3 656.1H500.8M505.3 709.8H500.8M505.3 763.4H500.8M505.3 817H500.8M505.3 870.7H500.8"/>
<text x="504.9" y="533.8" class="tk2" text-anchor="middle">0</text>
<text x="567.1" y="533.8" class="tk2" text-anchor="middle">0.5</text>
<text x="628.3" y="533.8" class="tk2" text-anchor="middle">1</text>
<text x="689.5" y="533.8" class="tk2" text-anchor="middle">1.5</text>
<text x="750.7" y="533.8" class="tk2" text-anchor="middle">2</text>
<text x="811.9" y="533.8" class="tk2" text-anchor="middle">2.5</text>
<text x="659" y="487.6" class="tt" text-anchor="middle">C2(RU)</text>
<circle cx="518.1" cy="559.6" r="3.7" fill="#4a80c6" stroke="#3d6dad" stroke-width="0.9"/><circle cx="519" cy="581.2" r="3.7" fill="#4a80c6" stroke="#3d6dad" stroke-width="0.9"/><circle cx="517" cy="602.6" r="3.7" fill="#4a80c6" stroke="#3d6dad" stroke-width="0.9"/><circle cx="518" cy="623.9" r="3.7" fill="#4a80c6" stroke="#3d6dad" stroke-width="0.9"/><circle cx="518" cy="645.6" r="3.7" fill="#4a80c6" stroke="#3d6dad" stroke-width="0.9"/><circle cx="515.9" cy="667.1" r="3.7" fill="#4a80c6" stroke="#3d6dad" stroke-width="0.9"/><circle cx="516.7" cy="688.5" r="3.7" fill="#4a80c6" stroke="#3d6dad" stroke-width="0.9"/><circle cx="519.3" cy="709.7" r="3.7" fill="#4a80c6" stroke="#3d6dad" stroke-width="0.9"/><circle cx="517.3" cy="731.6" r="3.7" fill="#4a80c6" stroke="#3d6dad" stroke-width="0.9"/><circle cx="520.9" cy="752.8" r="3.7" fill="#4a80c6" stroke="#3d6dad" stroke-width="0.9"/><circle cx="520.5" cy="774.4" r="3.7" fill="#4a80c6" stroke="#3d6dad" stroke-width="0.9"/><circle cx="528.6" cy="817" r="3.7" fill="#4a80c6" stroke="#3d6dad" stroke-width="0.9"/><circle cx="531.9" cy="838.7" r="3.7" fill="#4a80c6" stroke="#3d6dad" stroke-width="0.9"/><circle cx="540.6" cy="860.2" r="3.7" fill="#4a80c6" stroke="#3d6dad" stroke-width="0.9"/><circle cx="758.3" cy="578.2" r="3.7" fill="#cb4c4a" stroke="#b03d3e" stroke-width="0.9"/><circle cx="559.8" cy="594.3" r="3.7" fill="#cb4c4a" stroke="#b03d3e" stroke-width="0.9"/><circle cx="605.1" cy="600" r="3.7" fill="#cb4c4a" stroke="#b03d3e" stroke-width="0.9"/><circle cx="603.3" cy="637.3" r="3.7" fill="#cb4c4a" stroke="#b03d3e" stroke-width="0.9"/><circle cx="628.5" cy="648.3" r="3.7" fill="#cb4c4a" stroke="#b03d3e" stroke-width="0.9"/><circle cx="579.8" cy="680.2" r="3.7" fill="#cb4c4a" stroke="#b03d3e" stroke-width="0.9"/><circle cx="609.4" cy="685.7" r="3.7" fill="#cb4c4a" stroke="#b03d3e" stroke-width="0.9"/><circle cx="586.4" cy="712.6" r="3.7" fill="#cb4c4a" stroke="#b03d3e" stroke-width="0.9"/><circle cx="553" cy="554.3" r="3.7" fill="#9abd4a" stroke="#86a642" stroke-width="0.9"/><circle cx="556.6" cy="558.5" r="3.7" fill="#9abd4a" stroke="#86a642" stroke-width="0.9"/><circle cx="549.7" cy="567.2" r="3.7" fill="#9abd4a" stroke="#86a642" stroke-width="0.9"/><circle cx="627.1" cy="577.8" r="3.7" fill="#9abd4a" stroke="#86a642" stroke-width="0.9"/><circle cx="543.5" cy="586.5" r="3.7" fill="#9abd4a" stroke="#86a642" stroke-width="0.9"/><circle cx="565.2" cy="593" r="3.7" fill="#9abd4a" stroke="#86a642" stroke-width="0.9"/><circle cx="546.7" cy="612.1" r="3.7" fill="#9abd4a" stroke="#86a642" stroke-width="0.9"/>
<path fill="none" stroke="#1a1a1a" stroke-width="1.4" d="M887.5 548.8H1198M892 548.8V544.3M994 548.8V544.3M1096 548.8V544.3M1198 548.8V544.3M892 544.3V870.7M892 602.4H887.5M892 656.1H887.5M892 709.8H887.5M892 763.4H887.5M892 817H887.5M892 870.7H887.5"/>
<text x="891.6" y="533.8" class="tk2" text-anchor="middle">0</text>
<text x="994.6" y="533.8" class="tk2" text-anchor="middle">0.5</text>
<text x="1096.6" y="533.8" class="tk2" text-anchor="middle">1</text>
<text x="1198.6" y="533.8" class="tk2" text-anchor="middle">1.5</text>
<text x="1046" y="487.6" class="tt" text-anchor="middle">C3(RU)</text>
<circle cx="962.8" cy="559.6" r="3.7" fill="#4a80c6" stroke="#3d6dad" stroke-width="0.9"/><circle cx="965.4" cy="581.2" r="3.7" fill="#4a80c6" stroke="#3d6dad" stroke-width="0.9"/><circle cx="956.9" cy="602.6" r="3.7" fill="#4a80c6" stroke="#3d6dad" stroke-width="0.9"/><circle cx="969.4" cy="623.9" r="3.7" fill="#4a80c6" stroke="#3d6dad" stroke-width="0.9"/><circle cx="966" cy="645.6" r="3.7" fill="#4a80c6" stroke="#3d6dad" stroke-width="0.9"/><circle cx="967.3" cy="667.1" r="3.7" fill="#4a80c6" stroke="#3d6dad" stroke-width="0.9"/><circle cx="962.6" cy="688.5" r="3.7" fill="#4a80c6" stroke="#3d6dad" stroke-width="0.9"/><circle cx="975.3" cy="709.7" r="3.7" fill="#4a80c6" stroke="#3d6dad" stroke-width="0.9"/><circle cx="972" cy="731.6" r="3.7" fill="#4a80c6" stroke="#3d6dad" stroke-width="0.9"/><circle cx="998.7" cy="752.8" r="3.7" fill="#4a80c6" stroke="#3d6dad" stroke-width="0.9"/><circle cx="994" cy="774.4" r="3.7" fill="#4a80c6" stroke="#3d6dad" stroke-width="0.9"/><circle cx="1062" cy="817" r="3.7" fill="#4a80c6" stroke="#3d6dad" stroke-width="0.9"/><circle cx="1070" cy="838.7" r="3.7" fill="#4a80c6" stroke="#3d6dad" stroke-width="0.9"/><circle cx="1137.4" cy="860.2" r="3.7" fill="#4a80c6" stroke="#3d6dad" stroke-width="0.9"/><circle cx="977.2" cy="578.2" r="3.7" fill="#cb4c4a" stroke="#b03d3e" stroke-width="0.9"/><circle cx="915.6" cy="594.3" r="3.7" fill="#cb4c4a" stroke="#b03d3e" stroke-width="0.9"/><circle cx="921.2" cy="600" r="3.7" fill="#cb4c4a" stroke="#b03d3e" stroke-width="0.9"/><circle cx="918.9" cy="637.3" r="3.7" fill="#cb4c4a" stroke="#b03d3e" stroke-width="0.9"/><circle cx="930.7" cy="648.3" r="3.7" fill="#cb4c4a" stroke="#b03d3e" stroke-width="0.9"/><circle cx="918.5" cy="680.2" r="3.7" fill="#cb4c4a" stroke="#b03d3e" stroke-width="0.9"/><circle cx="930.9" cy="685.7" r="3.7" fill="#cb4c4a" stroke="#b03d3e" stroke-width="0.9"/><circle cx="963.4" cy="712.6" r="3.7" fill="#cb4c4a" stroke="#b03d3e" stroke-width="0.9"/><circle cx="934.9" cy="554.3" r="3.7" fill="#9abd4a" stroke="#86a642" stroke-width="0.9"/><circle cx="929.7" cy="558.5" r="3.7" fill="#9abd4a" stroke="#86a642" stroke-width="0.9"/><circle cx="926.2" cy="567.2" r="3.7" fill="#9abd4a" stroke="#86a642" stroke-width="0.9"/><circle cx="954" cy="577.8" r="3.7" fill="#9abd4a" stroke="#86a642" stroke-width="0.9"/><circle cx="934.9" cy="586.5" r="3.7" fill="#9abd4a" stroke="#86a642" stroke-width="0.9"/><circle cx="941.5" cy="593" r="3.7" fill="#9abd4a" stroke="#86a642" stroke-width="0.9"/><circle cx="935.2" cy="612.1" r="3.7" fill="#9abd4a" stroke="#86a642" stroke-width="0.9"/>
<path fill="none" stroke="#1a1a1a" stroke-width="1.4" d="M1274.6 548.8H1584.6M1279.1 548.8V544.3M1380.9 548.8V544.3M1482.8 548.8V544.3M1584.6 548.8V544.3M1279.1 544.3V870.7M1279.1 602.4H1274.6M1279.1 656.1H1274.6M1279.1 709.8H1274.6M1279.1 763.4H1274.6M1279.1 817H1274.6M1279.1 870.7H1274.6"/>
<text x="1278.7" y="533.8" class="tk2" text-anchor="middle">0</text>
<text x="1381.5" y="533.8" class="tk2" text-anchor="middle">0.5</text>
<text x="1483.4" y="533.8" class="tk2" text-anchor="middle">1</text>
<text x="1585.2" y="530.9" class="tk2" text-anchor="middle">1.5</text>
<text x="1433" y="487.6" class="tt" text-anchor="middle">C4(RU)</text>
<circle cx="1316.8" cy="559.6" r="3.7" fill="#4a80c6" stroke="#3d6dad" stroke-width="0.9"/><circle cx="1294.7" cy="581.2" r="3.7" fill="#4a80c6" stroke="#3d6dad" stroke-width="0.9"/><circle cx="1295" cy="602.6" r="3.7" fill="#4a80c6" stroke="#3d6dad" stroke-width="0.9"/><circle cx="1299.1" cy="623.9" r="3.7" fill="#4a80c6" stroke="#3d6dad" stroke-width="0.9"/><circle cx="1298.4" cy="645.6" r="3.7" fill="#4a80c6" stroke="#3d6dad" stroke-width="0.9"/><circle cx="1297.4" cy="667.1" r="3.7" fill="#4a80c6" stroke="#3d6dad" stroke-width="0.9"/><circle cx="1297.4" cy="688.5" r="3.7" fill="#4a80c6" stroke="#3d6dad" stroke-width="0.9"/><circle cx="1298.4" cy="709.7" r="3.7" fill="#4a80c6" stroke="#3d6dad" stroke-width="0.9"/><circle cx="1300.9" cy="731.6" r="3.7" fill="#4a80c6" stroke="#3d6dad" stroke-width="0.9"/><circle cx="1297.2" cy="752.8" r="3.7" fill="#4a80c6" stroke="#3d6dad" stroke-width="0.9"/><circle cx="1293.8" cy="774.4" r="3.7" fill="#4a80c6" stroke="#3d6dad" stroke-width="0.9"/><circle cx="1303.7" cy="817" r="3.7" fill="#4a80c6" stroke="#3d6dad" stroke-width="0.9"/><circle cx="1288.8" cy="838.7" r="3.7" fill="#4a80c6" stroke="#3d6dad" stroke-width="0.9"/><circle cx="1291.2" cy="860.2" r="3.7" fill="#4a80c6" stroke="#3d6dad" stroke-width="0.9"/><circle cx="1519.7" cy="578.2" r="3.7" fill="#cb4c4a" stroke="#b03d3e" stroke-width="0.9"/><circle cx="1335.5" cy="594.3" r="3.7" fill="#cb4c4a" stroke="#b03d3e" stroke-width="0.9"/><circle cx="1338.4" cy="600" r="3.7" fill="#cb4c4a" stroke="#b03d3e" stroke-width="0.9"/><circle cx="1333.1" cy="637.3" r="3.7" fill="#cb4c4a" stroke="#b03d3e" stroke-width="0.9"/><circle cx="1362" cy="648.3" r="3.7" fill="#cb4c4a" stroke="#b03d3e" stroke-width="0.9"/><circle cx="1328.7" cy="680.2" r="3.7" fill="#cb4c4a" stroke="#b03d3e" stroke-width="0.9"/><circle cx="1316.3" cy="685.7" r="3.7" fill="#cb4c4a" stroke="#b03d3e" stroke-width="0.9"/><circle cx="1356" cy="712.6" r="3.7" fill="#cb4c4a" stroke="#b03d3e" stroke-width="0.9"/><circle cx="1350.8" cy="554.3" r="3.7" fill="#9abd4a" stroke="#86a642" stroke-width="0.9"/><circle cx="1357.4" cy="558.5" r="3.7" fill="#9abd4a" stroke="#86a642" stroke-width="0.9"/><circle cx="1361.9" cy="567.2" r="3.7" fill="#9abd4a" stroke="#86a642" stroke-width="0.9"/><circle cx="1381.3" cy="577.8" r="3.7" fill="#9abd4a" stroke="#86a642" stroke-width="0.9"/><circle cx="1334.4" cy="586.5" r="3.7" fill="#9abd4a" stroke="#86a642" stroke-width="0.9"/><circle cx="1347.5" cy="593" r="3.7" fill="#9abd4a" stroke="#86a642" stroke-width="0.9"/><circle cx="1315" cy="612.1" r="3.7" fill="#9abd4a" stroke="#86a642" stroke-width="0.9"/>
<text x="78.6" y="560.1" class="tk3" text-anchor="end">0</text>
<text x="89.8" y="613.7" class="tk3" text-anchor="end">50</text>
<text x="100.9" y="667.4" class="tk3" text-anchor="end">100</text>
<text x="100.9" y="721" class="tk3" text-anchor="end">150</text>
<text x="101.3" y="774.7" class="tk3" text-anchor="end">200</text>
<text x="101.6" y="828.3" class="tk3" text-anchor="end">250</text>
<text x="101.6" y="882" class="tk3" text-anchor="end">300</text>
<text transform="translate(30.2 710) rotate(-90)" class="dl" text-anchor="middle">Depth (cm)</text>
<circle cx="1462.3" cy="798.1" r="3.8" fill="#4a80c6" stroke="#3d6dad" stroke-width="0.9"/>
<text x="1481.7" y="806.6" class="lg" style="letter-spacing:0.7px">QDN-C-S03</text>
<circle cx="1462.3" cy="826.3" r="3.8" fill="#cb4c4a" stroke="#b03d3e" stroke-width="0.9"/>
<text x="1483.2" y="837.4" class="lg">ROV01</text>
<circle cx="1462.3" cy="855.1" r="3.8" fill="#9abd4a" stroke="#86a642" stroke-width="0.9"/>
<text x="1483.2" y="866.2" class="lg">ROV05</text>
</svg>
</body></html>
